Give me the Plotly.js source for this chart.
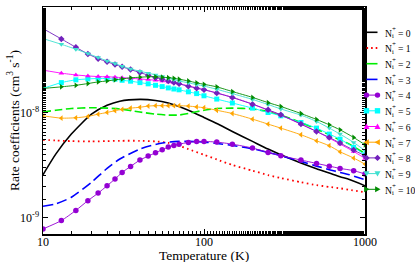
<!DOCTYPE html>
<html>
<head>
<meta charset="utf-8">
<script src="https://cdn.plot.ly/plotly-3.0.1.min.js"></script>
<style>html,body{margin:0;padding:0;background:#fff;}#chart{width:415px;height:262px;}</style>
</head>
<body>
<div id="chart"></div>
<script>
// Temperature grids (K)
const tLine = [10,12,15,20,25,30,40,50,60,70,80,100,120,150,200,250,300,400,500,600,700,800,1000];
const tMark = [10,13,16,19,22,25,28,31,35,40,45,50,55,60,65,70,80,90,100,120,150,200,250,300,400,500,600,700,850,1000];

// Rate coefficients (cm^3 s^-1)
const k0 = [2.57e-9,4.03e-9,6.24e-9,9.64e-9,1.17e-8,1.28e-8,1.33e-8,1.30e-8,1.23e-8,1.14e-8,1.05e-8,8.97e-9,7.87e-9,6.61e-9,5.32e-9,4.50e-9,3.97e-9,3.32e-9,2.93e-9,2.67e-9,2.46e-9,2.31e-9,2.02e-9];
const k1 = [5.51e-9,5.43e-9,5.35e-9,5.32e-9,5.35e-9,5.39e-9,5.39e-9,5.32e-9,5.16e-9,4.84e-9,4.50e-9,3.97e-9,3.59e-9,3.18e-9,2.81e-9,2.55e-9,2.39e-9,2.18e-9,2.05e-9,1.97e-9,1.91e-9,1.85e-9,1.75e-9];
const k2 = [1.01e-8,1.05e-8,1.09e-8,1.11e-8,1.10e-8,1.08e-8,1.01e-8,9.64e-9,9.44e-9,9.47e-9,9.79e-9,1.05e-8,1.09e-8,1.10e-8,1.08e-8,1.02e-8,9.44e-9,8.04e-9,6.96e-9,6.15e-9,5.47e-9,5.01e-9,4.09e-9];
const k3 = [1.29e-9,1.36e-9,1.57e-9,2.18e-9,2.95e-9,3.62e-9,4.50e-9,4.98e-9,5.24e-9,5.32e-9,5.32e-9,5.24e-9,5.09e-9,4.87e-9,4.53e-9,4.18e-9,3.89e-9,3.44e-9,3.10e-9,2.87e-9,2.70e-9,2.57e-9,2.31e-9];
const k4 = [7.87e-10,9.44e-10,1.18e-9,1.46e-9,1.72e-9,2.02e-9,2.34e-9,2.70e-9,3.08e-9,3.54e-9,3.86e-9,4.15e-9,4.43e-9,4.70e-9,4.87e-9,5.01e-9,5.20e-9,5.32e-9,5.32e-9,5.24e-9,5.01e-9,4.60e-9,4.18e-9,3.89e-9,3.54e-9,3.29e-9,3.10e-9,2.95e-9,2.81e-9,2.61e-9];
const k5 = [1.69e-8,1.92e-8,2.04e-8,2.08e-8,2.10e-8,2.10e-8,2.07e-8,2.02e-8,1.98e-8,1.92e-8,1.87e-8,1.81e-8,1.76e-8,1.71e-8,1.67e-8,1.64e-8,1.57e-8,1.51e-8,1.44e-8,1.34e-8,1.23e-8,1.10e-8,1.00e-8,9.30e-9,8.04e-9,7.11e-9,6.24e-9,5.59e-9,4.67e-9,3.97e-9];
const k6 = [2.52e-8,2.36e-8,2.27e-8,2.22e-8,2.19e-8,2.18e-8,2.16e-8,2.14e-8,2.11e-8,2.08e-8,2.05e-8,2.02e-8,1.99e-8,1.95e-8,1.91e-8,1.87e-8,1.79e-8,1.71e-8,1.65e-8,1.53e-8,1.39e-8,1.20e-8,1.05e-8,9.44e-9,7.76e-9,6.61e-9,5.72e-9,5.02e-9,4.27e-9,3.67e-9];
const k7 = [9.30e-9,8.84e-9,8.91e-9,9.17e-9,9.64e-9,1.00e-8,1.04e-8,1.07e-8,1.10e-8,1.12e-8,1.15e-8,1.16e-8,1.16e-8,1.16e-8,1.16e-8,1.16e-8,1.15e-8,1.13e-8,1.11e-8,1.05e-8,9.78e-9,8.65e-9,7.76e-9,7.11e-9,6.15e-9,5.39e-9,4.84e-9,4.24e-9,3.70e-9,3.24e-9];
const k8 = [6.24e-8,4.98e-8,4.15e-8,3.59e-8,3.24e-8,3.02e-8,2.85e-8,2.71e-8,2.55e-8,2.39e-8,2.26e-8,2.14e-8,2.07e-8,1.99e-8,1.92e-8,1.87e-8,1.77e-8,1.70e-8,1.64e-8,1.53e-8,1.39e-8,1.20e-8,1.06e-8,9.51e-9,7.76e-9,6.61e-9,5.80e-9,5.13e-9,4.40e-9,3.89e-9];
const k9 = [5.02e-8,4.43e-8,3.98e-8,3.62e-8,3.32e-8,3.08e-8,2.91e-8,2.74e-8,2.59e-8,2.46e-8,2.36e-8,2.27e-8,2.19e-8,2.11e-8,2.05e-8,1.99e-8,1.91e-8,1.84e-8,1.78e-8,1.66e-8,1.51e-8,1.33e-8,1.19e-8,1.08e-8,9.44e-9,8.22e-9,7.11e-9,6.24e-9,5.20e-9,4.34e-9];
const k10 = [1.69e-8,1.75e-8,1.81e-8,1.88e-8,1.95e-8,1.99e-8,2.04e-8,2.08e-8,2.13e-8,2.16e-8,2.18e-8,2.18e-8,2.16e-8,2.14e-8,2.11e-8,2.07e-8,1.99e-8,1.91e-8,1.85e-8,1.75e-8,1.58e-8,1.39e-8,1.24e-8,1.14e-8,9.78e-9,8.59e-9,7.64e-9,6.85e-9,5.80e-9,4.94e-9];

const seriesLabels = ['0','1','2','3','4','5','6','7','8','9','10'];
const xTickVals = [10,100,1000];
const xTickText = ['10','100','1000'];
const yTickVals = [1e-9,1e-8,1e-7];
const yTickText = ['10<sup>-9</sup>','10<sup>-8</sup>','10<sup>-7</sup>'];
const xTitle = 'Temperature (K)';
const yTitle = 'Rate coefficients (cm<sup>3</sup> s<sup>-1</sup>)';

const FONT = '"Liberation Serif","Times New Roman",Times,serif';

const styles = [
  {x:tLine, y:k0, color:'#000000', dash:'solid', w:1.6, sym:null},
  {x:tLine, y:k1, color:'#ff0000', dash:'1.6px,3.4px', w:1.8, sym:null},
  {x:tLine, y:k2, color:'#00ee00', dash:'8px,3.5px', w:1.6, sym:null},
  {x:tLine, y:k3, color:'#0000ff', dash:'10px,4.5px', w:1.6, sym:null},
  {x:tMark, y:k4, color:'#9400d3', dash:'solid', w:0.9, sym:'circle'},
  {x:tMark, y:k5, color:'#00ffff', dash:'solid', w:0.9, sym:'square'},
  {x:tMark, y:k6, color:'#ff00ff', dash:'solid', w:0.9, sym:'triangle-up'},
  {x:tMark, y:k7, color:'#ffa500', dash:'solid', w:0.9, sym:'triangle-left'},
  {x:tMark, y:k8, color:'#7221bc', dash:'solid', w:0.9, sym:'diamond'},
  {x:tMark, y:k9, color:'#40e0d0', dash:'solid', w:0.9, sym:'triangle-down'},
  {x:tMark, y:k10, color:'#008b00', dash:'solid', w:0.9, sym:'triangle-right'}
];

const traces = styles.map((s,i) => {
  const tr = {
    x: s.x, y: s.y, type:'scatter',
    mode: s.sym ? 'lines+markers' : 'lines',
    name: 'N_i+ = ' + seriesLabels[i],
    line: {color: s.color, width: s.w, dash: s.dash, shape:'spline', smoothing:0.6},
    showlegend: false, hoverinfo:'skip'
  };
  if (s.sym) tr.marker = {symbol: s.sym, size: s.sym==='circle'?5.5:5, color: s.color, line:{width:0}};
  return tr;
});

// plot area in pixels
const L = 43, R = 365, T = 7, B = 234;
const px = x => (x - L) / (R - L);
const py = y => (B - y) / (B - T);

const shapes = [];
const annotations = [];
const row0 = 32.3, rowStep = 15.7;
const lx0 = 366.5, lx1 = 377.5;

function symShape(sym, cx, cy, color) {
  const r = 2.7;
  let pts = null;
  if (sym === 'circle') {
    return {type:'circle', xref:'paper', yref:'paper', x0:px(cx-r), x1:px(cx+r), y0:py(cy+r), y1:py(cy-r), fillcolor:color, line:{width:0}};
  }
  if (sym === 'square') pts = [[cx-r,cy-r],[cx+r,cy-r],[cx+r,cy+r],[cx-r,cy+r]];
  if (sym === 'diamond') pts = [[cx,cy-r-0.5],[cx+r+0.5,cy],[cx,cy+r+0.5],[cx-r-0.5,cy]];
  if (sym === 'triangle-up') pts = [[cx,cy-r-0.3],[cx+r+0.3,cy+r-0.3],[cx-r-0.3,cy+r-0.3]];
  if (sym === 'triangle-down') pts = [[cx,cy+r+0.3],[cx+r+0.3,cy-r+0.3],[cx-r-0.3,cy-r+0.3]];
  if (sym === 'triangle-left') pts = [[cx-r-0.3,cy],[cx+r-0.3,cy-r-0.3],[cx+r-0.3,cy+r+0.3]];
  if (sym === 'triangle-right') pts = [[cx+r+0.3,cy],[cx-r+0.3,cy-r-0.3],[cx-r+0.3,cy+r+0.3]];
  const path = 'M' + pts.map(p => px(p[0]).toFixed(5) + ',' + py(p[1]).toFixed(5)).join(' L') + ' Z';
  return {type:'path', xref:'paper', yref:'paper', path:path, fillcolor:color, line:{width:0}};
}

function txt(text, x, y, size, xanchor) {
  return {xref:'paper', yref:'paper', x:px(x), y:py(y), xanchor:xanchor||'left', yanchor:'middle',
    text:text, showarrow:false, font:{family:FONT, size:size, color:'#000'}};
}

styles.forEach((s,i) => {
  const cy = row0 + rowStep * i;
  shapes.push({type:'line', xref:'paper', yref:'paper', x0:px(lx0), x1:px(lx1), y0:py(cy), y1:py(cy),
    line:{color:s.color, width: s.sym ? 1 : s.w, dash: s.sym ? 'solid' : (i===1 ? '1.6px,3px' : 'solid')}});
  if (s.sym) {
    shapes.push(symShape(s.sym, lx0, cy, s.color));
    shapes.push(symShape(s.sym, lx1, cy, s.color));
  }
  // N with stacked subscript i and superscript +
  annotations.push(txt('N', 382.8, cy + 0.8, 9.6));
  annotations.push(txt('i', 390.2, cy + 3.2, 6.5));
  annotations.push(txt('+', 390.0, cy - 3.6, 7));
  annotations.push(txt('= ' + seriesLabels[i], 396.2, cy + 0.8, 9.6));
});

// axis titles placed as text
annotations.push({xref:'paper', yref:'paper', x:px(13), y:py(121), xanchor:'center', yanchor:'middle',
  text:yTitle, textangle:-90, showarrow:false, font:{family:FONT, size:13.5, color:'#000'}});
annotations.push({xref:'paper', yref:'paper', x:px(203.5), y:py(255.5), xanchor:'center', yanchor:'middle',
  text:xTitle, showarrow:false, font:{family:FONT, size:13.5, color:'#000'}});

const layout = {
  width:415, height:262,
  margin:{l:L, r:415-R, t:T, b:262-B, pad:0},
  paper_bgcolor:'#fff', plot_bgcolor:'#fff',
  font:{family:FONT, size:12, color:'#000'},
  showlegend:false,
  xaxis:{
    type:'log', range:[1,3],
    tickvals:xTickVals, ticktext:xTickText,
    ticks:'inside', ticklen:5, tickwidth:1, tickcolor:'#000',
    minor:{ticks:'inside', ticklen:3, tickwidth:1, tickcolor:'#000', showgrid:false},
    showline:true, linecolor:'#000', linewidth:1.5, mirror:'ticks',
    showgrid:false, zeroline:false,
    tickfont:{family:FONT, size:12},
    ticklabelstandoff:-4
  },
  yaxis:{
    type:'log', range:[-9.152,-7],
    tickvals:yTickVals, ticktext:yTickText,
    ticks:'inside', ticklen:5, tickwidth:1, tickcolor:'#000',
    minor:{ticks:'inside', ticklen:3, tickwidth:1, tickcolor:'#000', showgrid:false},
    showline:true, linecolor:'#000', linewidth:1.5, mirror:'ticks',
    showgrid:false, zeroline:false,
    tickfont:{family:FONT, size:12}
  },
  shapes:shapes,
  annotations:annotations
};

Plotly.newPlot('chart', traces, layout, {staticPlot:true, displayModeBar:false});
</script>
</body>
</html>
